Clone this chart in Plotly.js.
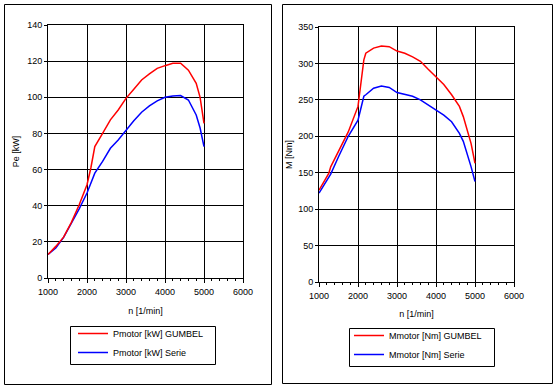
<!DOCTYPE html>
<html>
<head>
<meta charset="utf-8">
<script src="https://cdn.plot.ly/plotly-3.0.1.min.js"></script>
<style>html,body{margin:0;padding:0;background:#fff;}#chart{width:555px;height:389px;}</style>
</head>
<body>
<div id="chart"></div>
<script>
// engine speed n [1/min]
const n = [1000,1200,1400,1600,1800,2000,2100,2200,2400,2600,2800,3000,3200,3400,3600,3800,4000,4200,4400,4600,4800,4900,5000];
// power [kW]
const pGumbel = [13,17.5,22.6,30.8,40.5,51.6,61,72.7,80,87.5,93,99.4,104.4,109.6,112.9,116,117.5,118.8,118.8,115,107.7,100,85.6];
const pSerie  = [13,16.6,22.5,30,38.3,47,52,58,64.5,71.8,76.4,82,87,91.7,95.2,98,100,100.7,101,98.5,90.2,83,72.7];
// torque [Nm]
const nM = [1000,1250,1300,1500,1750,2000,2150,2200,2400,2600,2800,3000,3200,3400,3600,3800,4000,4200,4400,4600,4700,4800,4900,5000];
const mGumbel = [126,149,158,179,206,241,305,314,321,324,323,317,314,309,303,292,282,271,257,241,227,209,190,163];
const mSerie  = [122,144,148,172,200,222,255,257,266,269,267,260,257,255,250,243,236,229,220,204,193,177,158,138];

const nameP1 = 'Pmotor [kW] GUMBEL', nameP2 = 'Pmotor [kW] Serie';
const nameM1 = 'Mmotor [Nm] GUMBEL', nameM2 = 'Mmotor [Nm] Serie';
const xTitle = 'n [1/min]', yTitleP = 'Pe [kW]', yTitleM = 'M [Nm]';

const RED = '#ff0000', BLUE = '#0000ff';
const F = {family: 'Liberation Sans, Arial, sans-serif', size: 9, color: '#000'};

const traces = [
  {x: n, y: pSerie, name: nameP2, mode: 'lines', line: {color: BLUE, width: 1.5}, xaxis: 'x', yaxis: 'y', legend: 'legend', legendrank: 2},
  {x: n, y: pGumbel, name: nameP1, mode: 'lines', line: {color: RED, width: 1.5}, xaxis: 'x', yaxis: 'y', legend: 'legend', legendrank: 1},
  {x: nM, y: mSerie, name: nameM2, mode: 'lines', line: {color: BLUE, width: 1.5}, xaxis: 'x2', yaxis: 'y2', legend: 'legend2', legendrank: 2},
  {x: nM, y: mGumbel, name: nameM1, mode: 'lines', line: {color: RED, width: 1.5}, xaxis: 'x2', yaxis: 'y2', legend: 'legend2', legendrank: 1}
];

function xax(domain, anchor, standoff) {
  return {domain: domain, anchor: anchor, range: [1000, 6000], dtick: 1000, tick0: 0,
    showgrid: true, gridcolor: '#000', gridwidth: 1, zeroline: false,
    showline: true, linecolor: '#000', linewidth: 1, mirror: true,
    ticks: 'outside', ticklen: 4, tickcolor: '#000', tickfont: F, ticklabelstandoff: 1,
    minor: {dtick: 200, ticks: 'outside', ticklen: 2, tickcolor: '#000', showgrid: false},
    title: {text: xTitle, font: F, standoff: standoff}, automargin: false, fixedrange: true};
}
function yax(domain, anchor, max, dt, title, standoff) {
  return {domain: domain, anchor: anchor, range: [0, max], dtick: dt,
    showgrid: true, gridcolor: '#000', gridwidth: 1, zeroline: false,
    showline: true, linecolor: '#000', linewidth: 1, mirror: true,
    ticks: 'outside', ticklen: 3, tickcolor: '#000', tickfont: F,
    title: {text: title, font: F, standoff: standoff}, automargin: false, fixedrange: true};
}

const legendBase = {font: F, bgcolor: 'rgba(0,0,0,0)', borderwidth: 0,
  xanchor: 'left', yanchor: 'top', xref: 'paper', yref: 'paper', tracegroupgap: 0, itemwidth: 30, traceorder: 'normal'};

const layout = {
  width: 555, height: 389,
  margin: {l: 0, r: 0, t: 0, b: 0},
  paper_bgcolor: '#fff', plot_bgcolor: '#fff',
  font: F,
  showlegend: true,
  xaxis: xax([48/555, 243/555], 'y', 11),
  yaxis: yax([1 - 278/389, 1 - 25/389], 'x', 140, 20, yTitleP, 6),
  xaxis2: xax([319/555, 514/555], 'y2', 10),
  yaxis2: yax([1 - 282/389, 1 - 27/389], 'x2', 350, 50, yTitleM, 4),
  legend: Object.assign({}, legendBase, {x: 73/555, y: 1 - 319/389}),
  legend2: Object.assign({}, legendBase, {x: 349/555, y: 1 - 321/389}),
  shapes: [
    {type: 'rect', xref: 'paper', yref: 'paper', x0: 4.5/555, x1: 271.5/555, y0: 1 - 384.5/389, y1: 1 - 4.5/389, line: {color: '#000', width: 1}},
    {type: 'rect', xref: 'paper', yref: 'paper', x0: 282.5/555, x1: 552.5/555, y0: 1 - 383.5/389, y1: 1 - 4.5/389, line: {color: '#000', width: 1}},
    {type: 'rect', xref: 'paper', yref: 'paper', x0: 70.5/555, x1: 215.5/555, y0: 1 - 364.5/389, y1: 1 - 326.5/389, line: {color: '#000', width: 1}},
    {type: 'rect', xref: 'paper', yref: 'paper', x0: 349.5/555, x1: 494.5/555, y0: 1 - 366.5/389, y1: 1 - 328.5/389, line: {color: '#000', width: 1}}
  ]
};

Plotly.newPlot('chart', traces, layout, {displayModeBar: false, staticPlot: true});
</script>
</body>
</html>
